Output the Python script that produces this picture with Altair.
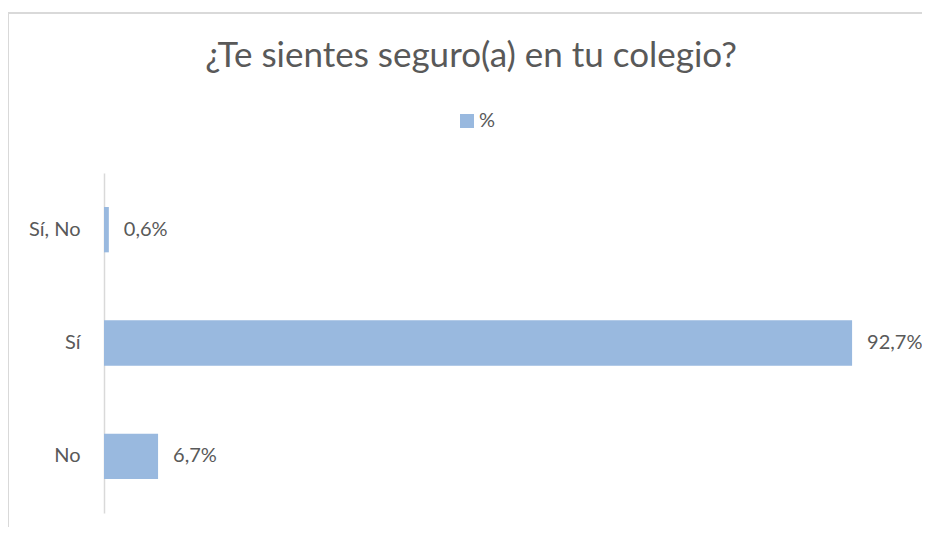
import altair as alt
import pandas as pd

categories = ["Sí, No", "Sí", "No"]
values = [0.6, 92.7, 6.7]
series_name = "%"
title_text = "¿Te sientes seguro(a) en tu colegio?"

BAR = "#99B9DF"
TXT = "#595959"
FONT = "Lato"

df = pd.DataFrame({
    "cat": categories,
    "val": values,
    "serie": [series_name] * len(categories),
    "lab": [f"{v:.1f}".replace(".", ",") + "%" for v in values],
})

y_enc = alt.Y("cat:N", sort=categories,
              scale=alt.Scale(paddingInner=0.6, paddingOuter=0.3),
              axis=alt.Axis(title=None, ticks=False, grid=False, domainColor="#d9d9d9",
                            domainWidth=1.5, labelFontSize=20, labelColor=TXT,
                            labelFont=FONT, labelFontWeight="normal", labelPadding=24))
x_enc = alt.X("val:Q", scale=alt.Scale(domain=[0, 100]), axis=None)

frame = pd.DataFrame({"a": [0]})
border_top = alt.Chart(frame).mark_rule(stroke="#d9d9d9", strokeWidth=2, clip=False).encode(
    x=alt.value(-96), x2=alt.value(900), y=alt.value(-160))
border_left = alt.Chart(frame).mark_rule(stroke="#d9d9d9", strokeWidth=2, clip=False).encode(
    x=alt.value(-96), y=alt.value(-161), y2=alt.value(420))

bars = alt.Chart(df).mark_bar(clip=False).encode(
    x=x_enc, y=y_enc,
    color=alt.Color("serie:N", scale=alt.Scale(domain=[series_name], range=[BAR]),
                    legend=alt.Legend(title=None, orient="none", legendX=353, legendY=-62,
                                      symbolType="square", symbolSize=196,
                                      symbolStrokeWidth=0, labelOffset=2,
                                      labelFontSize=20, labelColor=TXT, labelFont=FONT)),
)

labels = alt.Chart(df).mark_text(align="left", baseline="middle", dx=15, fontSize=20,
                                 color=TXT, font=FONT).encode(
    x=x_enc, y=alt.Y("cat:N", sort=categories), text="lab:N")

title = alt.Chart(pd.DataFrame({"t": [title_text]})).mark_text(
    align="center", baseline="alphabetic", fontSize=35, color=TXT, font=FONT, fontWeight="normal"
).encode(x=alt.value(367), y=alt.value(-106), text="t:N")

chart = alt.layer(border_top, border_left, bars, labels, title).properties(
    width=807, height=340,
    background="white",
    autosize=alt.AutoSizeParams(type="none"),
    padding={"left": 96, "top": 165, "right": 11, "bottom": 14},
).configure_view(stroke=None)

chart.save("out.html", embed_options={"renderer": "svg", "actions": False})
